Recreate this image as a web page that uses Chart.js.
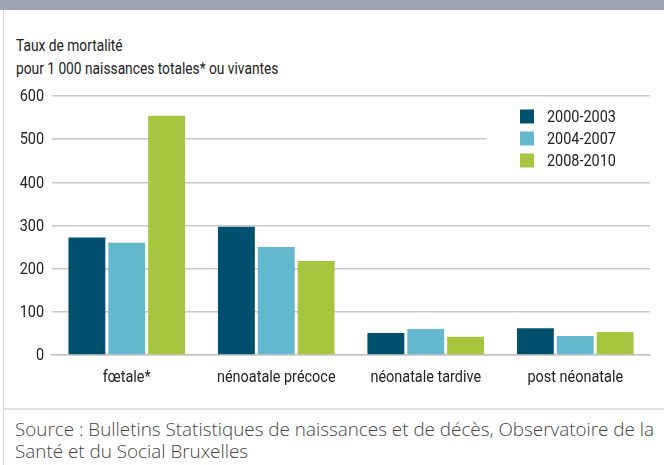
<!DOCTYPE html>
<html>
<head>
<meta charset="utf-8">
<script src="https://cdn.jsdelivr.net/npm/chart.js@4/dist/chart.umd.min.js"></script>
<style>
  html, body { margin: 0; padding: 0; background: #fff; }
  body { width: 664px; height: 465px; position: relative; overflow: hidden; }
  #band { position: absolute; left: 0; top: 0; width: 664px; height: 10px; background: #9ba6b2; }
  #leftline { position: absolute; left: 3px; top: 10px; width: 1px; height: 455px; background: #d3d8de; }
  #titre { position: absolute; left: 16px; top: 34px; font-family: Roboto, sans-serif;
           font-size: 16px; line-height: 23px; color: #222; white-space: nowrap;
           transform: scaleX(0.86); transform-origin: left top; }
  #wrap { position: absolute; left: 0; top: 80px; width: 664px; height: 320px; }
  #sep { position: absolute; left: 4px; top: 408px; width: 660px; height: 2px; background: #dde1e6; }
  #source { position: absolute; left: 15px; top: 418px; font-family: "Open Sans", sans-serif; font-weight: 300;
            font-size: 18.85px; line-height: 22px; color: #444; white-space: nowrap; }
</style>
</head>
<body>
<div id="band"></div>
<div id="leftline"></div>
<div id="titre">Taux de mortalité<br>pour 1 000 naissances totales* ou vivantes</div>
<div id="wrap"><canvas id="c" width="664" height="320"></canvas></div>
<div id="sep"></div>
<div id="source">Source : Bulletins Statistiques de naissances et de décès, Observatoire de la<br>Santé et du Social Bruxelles</div>
<script>
// ── Données ──────────────────────────────────────────────────────────────
const categories = ['fœtale*', 'nénoatale précoce', 'néonatale tardive', 'post néonatale'];
const periodes   = ['2000-2003', '2004-2007', '2008-2010'];
const val2000    = [272, 297, 51, 62];
const val2004    = [260, 250, 60, 44];
const val2008    = [554, 218, 42, 53];
const yTicks     = [0, 100, 200, 300, 400, 500, 600];

const couleurs = ['#00506e', '#63b8cd', '#a6c640'];
const FONT = '17px Roboto, sans-serif';
const SERRE = 0.85;   // compression horizontale (police condensée de l'original)

// texte condensé : on écrase horizontalement autour du point d'ancrage
function texteSerre(c, txt, x, y) {
    c.save();
    c.translate(x, y);
    c.scale(SERRE, 1);
    c.fillText(txt, 0, 0);
    c.restore();
}

// étiquettes des axes, positions prises sur les échelles de Chart.js
const etiquettesPlugin = {
    id: 'etiquettes',
    afterDraw(chart) {
        const c = chart.ctx;
        const { x, y } = chart.scales;
        c.save();
        c.font = FONT;
        c.fillStyle = '#222';
        c.textBaseline = 'middle';
        c.textAlign = 'right';
        y.ticks.forEach((t) => texteSerre(c, String(t.value), 44, y.getPixelForValue(t.value) + 1));
        c.textAlign = 'center';
        c.textBaseline = 'top';
        chart.data.labels.forEach((lab, i) => texteSerre(c, lab, x.getPixelForTick(i), x.bottom - 45 + 14));
        c.restore();
    }
};

// légende dessinée dans la zone du graphique (fond blanc qui coupe la grille)
const legendePlugin = {
    id: 'legendeInterne',
    beforeDatasetsDraw(chart) {
        const c = chart.ctx;
        const area = chart.chartArea;
        const x0 = 487, y0 = chart.scales.y.getPixelForValue(585);
        c.save();
        c.fillStyle = '#fff';
        c.fillRect(x0, y0, area.right - x0 + 1, 72);
        c.font = FONT;
        c.textBaseline = 'middle';
        c.textAlign = 'left';
        chart.data.datasets.forEach((ds, i) => {
            const yy = y0 + 14 + i * 22;
            c.fillStyle = ds.backgroundColor;
            c.fillRect(520, yy - 7, 14, 14);
            c.fillStyle = '#222';
            texteSerre(c, ds.label, 547, yy + 1);
        });
        c.restore();
    }
};

new Chart(document.getElementById('c'), {
    type: 'bar',
    data: {
        labels: categories,
        datasets: [val2000, val2004, val2008].map((v, i) => ({
            label: periodes[i],
            data: v,
            backgroundColor: couleurs[i],
            borderWidth: 0,
            categoryPercentage: 0.8,
            barPercentage: 0.925
        }))
    },
    options: {
        responsive: false,
        animation: false,
        layout: { padding: { top: 16, right: 14, left: 0, bottom: 0 } },
        plugins: { legend: { display: false }, tooltip: { enabled: false } },
        scales: {
            x: {
                grid: { display: false, drawTicks: false },
                border: { display: true, color: '#c4c4c4', width: 1.5 },
                ticks: { display: false },
                afterFit: (axis) => { axis.height = 45; }
            },
            y: {
                min: 0,
                max: 600,
                afterBuildTicks: (axis) => { axis.ticks = yTicks.map(v => ({ value: v })); },
                grid: { color: '#c8c8c8', lineWidth: 1.5, drawTicks: false },
                border: { display: false },
                ticks: { display: false },
                afterFit: (axis) => { axis.width = 52; }
            }
        }
    },
    plugins: [legendePlugin, etiquettesPlugin]
});
</script>
</body>
</html>
